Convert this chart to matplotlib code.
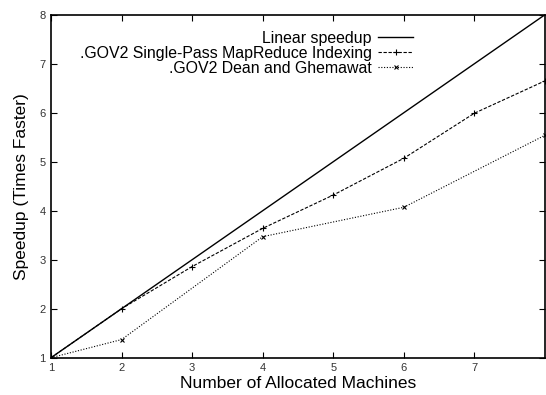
import matplotlib
matplotlib.use("Agg")
import matplotlib.pyplot as plt

plt.rcParams['font.family'] = ['Liberation Sans', 'DejaVu Sans']

linear_x = [1, 8]
linear_y = [1, 8]
sp_x = [1, 2, 3, 4, 5, 6, 7, 8]
sp_y = [1.0, 2.0, 2.86, 3.64, 4.32, 5.07, 5.99, 6.65]
dg_x = [1, 2, 4, 6, 8]
dg_y = [1.0, 1.37, 3.47, 4.07, 5.54]
xticks = [1, 2, 3, 4, 5, 6, 7]
yticks = [1, 2, 3, 4, 5, 6, 7, 8]

fig = plt.figure(figsize=(5.46, 3.95), dpi=100)
ax = fig.add_axes([51/546, 1-357.7/395, (545-51)/546, (357.7-14.7)/395])

ax.plot(linear_x, linear_y, color='black', lw=1.0, label='Linear speedup')
ax.plot(sp_x, sp_y, color='black', lw=0.8, ls=(0, (3, 1.5)), marker='+', ms=4.5, mew=0.8,
        label='.GOV2 Single-Pass MapReduce Indexing')
ax.plot(dg_x, dg_y, color='black', lw=0.8, ls=(0, (1, 1.5)), marker='x', ms=3.5, mew=0.8,
        label='.GOV2 Dean and Ghemawat')

ax.set_xlim(1, 8)
ax.set_ylim(1, 8)
ax.set_xticks(xticks)
ax.set_yticks(yticks)
ax.tick_params(direction='in', length=4, width=0.8, top=True, right=True,
               labelsize=8, labelcolor='#333333', pad=4)
for s in ax.spines.values():
    s.set_linewidth(1.2)

ax.set_xlabel('Number of Allocated Machines', fontsize=12.5, labelpad=2)
ax.set_ylabel('Speedup (Times Faster)', fontsize=12.5, labelpad=7)

leg = ax.legend(loc='upper right', bbox_to_anchor=(0.765, 1.0), frameon=False,
                markerfirst=False, fontsize=11.4, handlelength=2.2, handletextpad=0.4,
                labelspacing=0.0, borderaxespad=0.6)
for t in leg.get_texts():
    t.set_ha('right')
leg._legend_box.align = 'right'

fig.savefig('out.png', dpi=100)
